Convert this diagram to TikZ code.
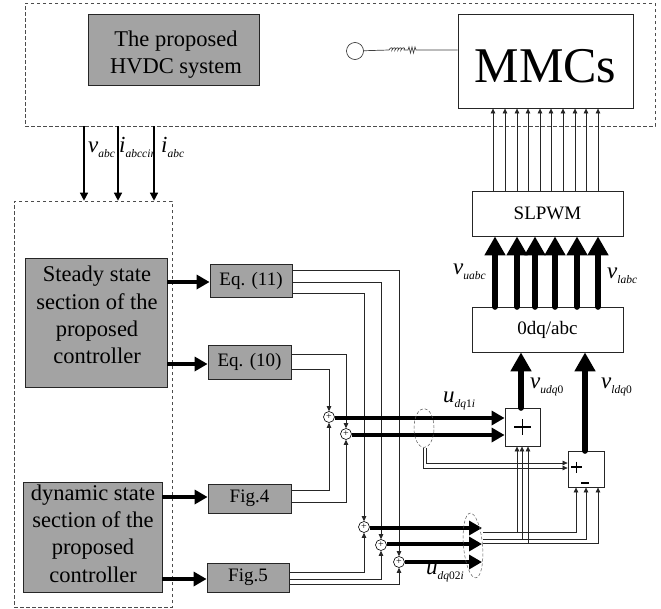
\documentclass[tikz,border=0pt]{standalone}
\usepackage{fontspec}
\setmainfont{Liberation Serif}
\usetikzlibrary{arrows.meta,calc,shapes.geometric}
\definecolor{boxgray}{HTML}{A3A3A3}
\newcommand{\sig}[2]{\textit{#1}{\fontsize{11.5}{12}\selectfont\raisebox{-5.5pt}{#2}}}
\tikzset{
  x=1pt,y=-1pt,
  dashbox/.style={draw=black!70,dashed,dash pattern=on 3.5pt off 2.5pt,line width=.6pt},
  graybox/.style={draw=black!85,fill=boxgray,line width=.8pt,inner sep=0pt},
  grouptext/.style={inner sep=0pt,align=center,font=\fontsize{22.5}{27.3}\selectfont},
  smallgray/.style={graybox,font=\fontsize{19}{22}\selectfont},
  whitebox/.style={draw=black!85,fill=white,line width=.8pt,inner sep=0pt,align=center},
  sumnode/.style={circle,draw=black,fill=white,line width=.6pt,minimum size=11pt,inner sep=0pt,font=\fontsize{10}{10}\selectfont},
  thinarrow/.style={draw=black!85,line width=.7pt,-{Triangle[length=5pt,width=4.5pt]}},
  medarrow/.style={draw=black,line width=1.3pt,-{Triangle[length=8pt,width=8pt]}},
  feedarrow/.style={draw=black,line width=3.5pt,-{Triangle[length=13pt,width=14pt]}},
  upperarrow/.style={draw=black,line width=6.5pt,line cap=round,-{Triangle[length=19pt,width=20pt]}},
  groupell/.style={draw=black!65,dashed,dash pattern=on 3pt off 2pt,line width=.5pt,ellipse,inner sep=0pt},
  lab/.style={inner sep=0pt,anchor=base west,font=\fontsize{23}{24}\selectfont}
}
\begin{document}
\begin{tikzpicture}
\useasboundingbox (0,0) rectangle (661,608);
\fill[white] (0,0) rectangle (661,608);
% dashed frames
\node[dashbox,minimum width=630pt,minimum height=123pt,inner sep=0pt] (plant) at (340,64.5) {};
\node[dashbox,minimum width=158pt,minimum height=406pt,inner sep=0pt] (ctrl) at (93,404) {};
% boxes
\node[graybox,minimum width=171pt,minimum height=71pt] (hvdc) at (173.5,49.5) {};
\node[grouptext] (hvdct) at (176,54.5) {The proposed\\HVDC system};
\node[whitebox,minimum width=175pt,minimum height=94pt,text height=43pt,text depth=0pt,font=\fontsize{50}{52}\selectfont] (mmc) at (545.5,61) {MMCs};
\node[whitebox,minimum width=151pt,minimum height=45pt,font=\fontsize{19}{21}\selectfont] (slpwm) at (547.5,213.5) {SLPWM};
\node[whitebox,minimum width=151pt,minimum height=45pt,font=\fontsize{19}{21}\selectfont] (conv) at (547.5,329.5) {0dq/abc};
\node[graybox,minimum width=142pt,minimum height=129pt] (steady) at (96,322.5) {};
\node[grouptext] (steadyt) at (97,315) {Steady state\\section of the\\proposed\\controller};
\node[graybox,minimum width=139pt,minimum height=110pt] (dyn) at (92.5,537) {};
\node[grouptext] (dynt) at (93,533.5) {dynamic state\\section of the\\proposed\\controller};
\node[smallgray,minimum width=82pt,minimum height=33pt] (eq11) at (251,280.5) {Eq. (11)};
\node[smallgray,minimum width=83pt,minimum height=34pt] (eq10) at (249.5,362) {Eq. (10)};
\node[smallgray,minimum width=83pt,minimum height=29pt] (fig4) at (249.5,498.5) {Fig.4};
\node[smallgray,minimum width=82pt,minimum height=29pt] (fig5) at (248,577.5) {Fig.5};
\node[whitebox,minimum width=35pt,minimum height=38pt] (add1) at (522.5,427) {};
\node[whitebox,minimum width=36pt,minimum height=36pt] (add2) at (586,469) {};
\node[sumnode] (s1) at (329,417) {+};
\node[sumnode] (s2) at (346,434) {+};
\node[sumnode] (s3) at (364,527) {+};
\node[sumnode] (s4) at (381,545) {+};
\node[sumnode] (s5) at (399,562) {+};
% plus / minus signs in the adders
\draw[line width=1.3pt] (514,427) -- (531,427) (522.5,419) -- (522.5,435);
\draw[line width=1.3pt] (571,467) -- (582,467) (576.5,461.5) -- (576.5,472.5);
\draw[line width=2pt] (581,483) -- (589,483);
% source
\node[circle,draw=black!85,line width=.6pt,minimum size=17pt,inner sep=0pt] (src) at (355,51) {};
\coordinate (rl) at (389,50);
\coordinate (rr) at (425,50);
\draw[black!75,line width=.7pt] (src) -- (rl)
  .. controls ++(1,-3) and ++(2,-3) .. ++(3,0) .. controls ++(1,-3) and ++(2,-3) .. ++(3,0)
  .. controls ++(1,-3) and ++(2,-3) .. ++(3,0) .. controls ++(1,-3) and ++(2,-3) .. ++(3,0)
  .. controls ++(1,-3) and ++(2,-3) .. ++(3,0)
  -- ++(4,0) -- ++(1,-3) -- ++(1.5,6) -- ++(1.5,-6) -- ++(1.5,6) -- ++(1.5,-6) -- ++(1,3) -- (rr) -- (mmc.west |- rr);
% gate signals
\foreach \xx in {493,505,517,528,540,551,563,575,586,598}{
  \draw[thinarrow] (\xx,0 |- slpwm.north) -- (\xx,0 |- mmc.south);
}
\foreach \xx in {495,517,535,555,577,598}{
  \draw[upperarrow] (\xx,0 |- conv.north) -- (\xx,0 |- slpwm.south);
}
\draw[upperarrow] (521,0 |- add1.north) -- (521,0 |- conv.south);
\draw[upperarrow] (585,0 |- add2.north) -- (585,0 |- conv.south);
% measurements
\foreach \xx in {84,118,154}{
  \draw[medarrow] (\xx,0 |- plant.south) -- (\xx,0 |- ctrl.north);
}
% section to equation arrows
\draw[feedarrow] (steady.east |- 0,282) -- (eq11.west |- 0,282);
\draw[feedarrow] (steady.east |- 0,364) -- (eq10.west |- 0,364);
\draw[feedarrow] (dyn.east |- 0,497) -- (fig4.west |- 0,497);
\draw[feedarrow] (dyn.east |- 0,579) -- (fig5.west |- 0,579);
% eq / fig to sums
\draw[thinarrow] (eq10.east |- 0,369) -| (s1);
\draw[thinarrow] (eq10.east |- 0,354) -| (s2);
\draw[thinarrow] (fig4.east |- 0,490) -| (s1);
\draw[thinarrow] (fig4.east |- 0,502) -| (s2);
\draw[thinarrow] (eq11.east |- 0,293) -| (s3);
\draw[thinarrow] (eq11.east |- 0,282) -| (s4);
\draw[thinarrow] (eq11.east |- 0,270) -| (s5);
\draw[thinarrow] (fig5.east |- 0,572) -| (s3);
\draw[thinarrow] (fig5.east |- 0,579) -| (s4);
\draw[thinarrow] (fig5.east |- 0,584) -| (s5);
% thick outputs
\draw[feedarrow] (s1.east |- 0,418) -- (add1.west |- 0,418);
\draw[feedarrow] (s2.east |- 0,435) -- (add1.west |- 0,435);
\coordinate (e3) at (482,528);
\coordinate (e4) at (482,544);
\coordinate (e5) at (482,562);
\draw[feedarrow] (s3.east |- e3) -- (e3);
\draw[feedarrow] (s4.east |- e4) -- (e4);
\draw[feedarrow] (s5.east |- e5) -- (e5);
% group ellipses
\node[groupell,minimum width=20pt,minimum height=39pt] (g1) at (424,428) {};
\node[groupell,minimum width=19pt,minimum height=65pt,rotate=5] (g2) at (473,545.5) {};
% g1 to add2
\draw[thinarrow] (426,0 |- g1.south) |- (add2.west |- 0,463);
\draw[thinarrow] (423,0 |- g1.south) |- (add2.west |- 0,468);
% g2 to adders
\draw[thinarrow] (483,532) -| (576,0 |- add2.south);
\draw[thinarrow] (483,539) -| (586,0 |- add2.south);
\draw[thinarrow] (483,543) -| (598,0 |- add2.south);
\draw[thinarrow] (517,532) -- (517,0 |- add1.south);
\draw[thinarrow] (522,539) -- (522,0 |- add1.south);
\draw[thinarrow] (528,543) -- (528,0 |- add1.south);
% labels
\node[lab] (lv) at (88,152) {\sig{v}{\textit{abc}}};
\node[lab] (li) at (119,152) {\sig{i}{\textit{abccir}}};
\node[lab] (lia) at (161,152) {\sig{i}{\textit{abc}}};
\node[lab] (lu) at (453,274) {\sig{v}{\textit{uabc}}};
\node[lab] (ll) at (607,278) {\sig{v}{\textit{labc}}};
\node[lab] (lud) at (530,388) {\sig{v}{\textit{udq}0}};
\node[lab] (lld) at (601,388) {\sig{v}{\textit{ldq}0}};
\node[lab] (lu1) at (443,402) {\sig{u}{\textit{dq}1\textit{i}}};
\node[lab] (lu2) at (426,574) {\sig{u}{\textit{dq}02\textit{i}}};
\end{tikzpicture}
\end{document}
